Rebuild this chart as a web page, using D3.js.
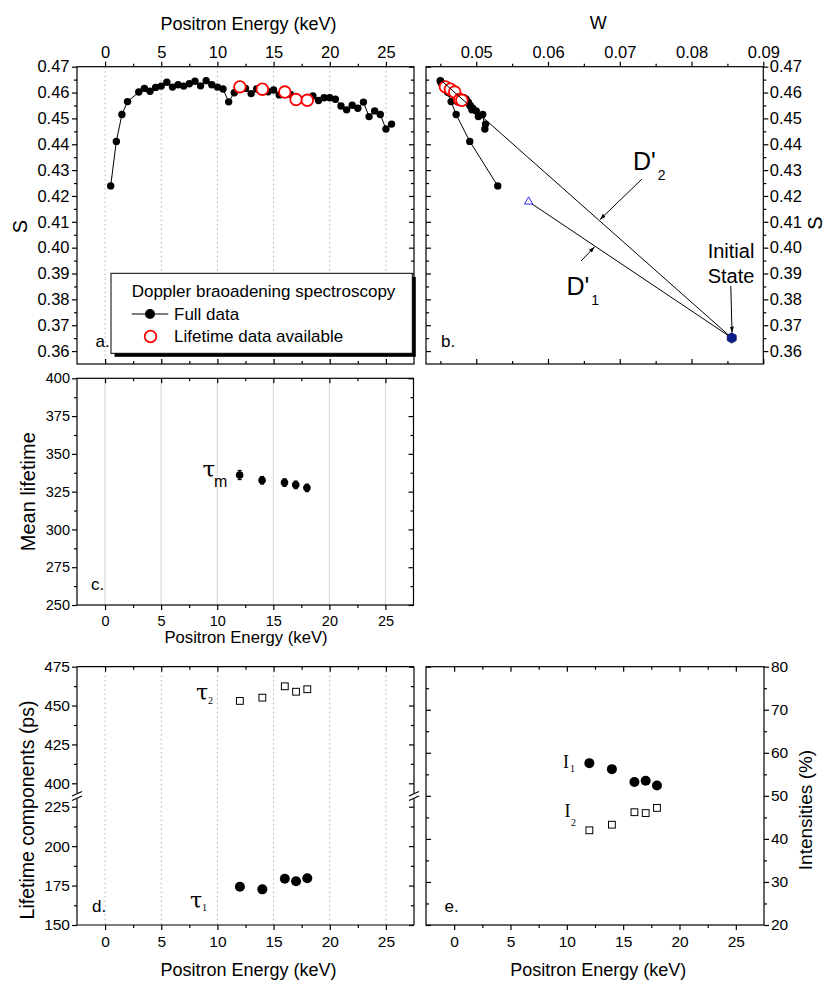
<!DOCTYPE html>
<html><head><meta charset="utf-8">
<script src="https://cdn.jsdelivr.net/npm/d3@7"></script>
<style>
body{margin:0;background:#fff;}
svg{display:block;}
</style></head><body>
<svg id="chart" width="825" height="981"></svg>
<script>
// ---------------- DATA ----------------
const energy = [0.5,1,1.5,2,3,3.5,4,4.5,5,5.5,6,6.5,7,7.5,8,8.5,9,9.5,10,10.5,11,11.5,12,12.5,13,13.5,14,14.5,15,15.5,16,16.5,17,17.5,18,18.5,19,19.5,20,20.5,21,21.5,22,22.5,23,23.5,24,24.5,25,25.5];
const sFull = [0.4239,0.4411,0.4515,0.4565,0.4602,0.4616,0.4605,0.4620,0.4625,0.4640,
               0.4621,0.4630,0.4625,0.4634,0.4644,0.4626,0.4646,0.4630,0.4621,0.4614,
               0.4564,0.4599,0.4620,0.4616,0.4596,0.4614,0.4612,0.4603,0.4610,0.4591,
               0.4600,0.4593,0.4575,0.4572,0.4572,0.4587,0.4569,0.4580,0.4580,0.4574,
               0.4548,0.4533,0.4551,0.4539,0.4563,0.4507,0.4529,0.4515,0.4459,0.4478];
const wFull = [0.0530,0.0491,0.0472,0.0465,0.0460,0.0457,0.0460,0.0455,0.0454,0.0451,
               0.0455,0.0453,0.0454,0.0452,0.0450,0.0454,0.0450,0.0454,0.0456,0.0458,
               0.0474,0.0462,0.0457,0.0459,0.0465,0.0461,0.0464,0.0467,0.0466,0.0471,
               0.0470,0.0473,0.0477,0.0479,0.0480,0.0476,0.0483,0.0481,0.0483,0.0486,
               0.0492,0.0494,0.0491,0.0495,0.0489,0.0503,0.0500,0.0509,0.0512,0.0513];
const lifeE = [12,14,16,17,18];
const sLife = [0.4622,0.4613,0.4602,0.4573,0.4570];
const wLife = [0.0457,0.0464,0.0470,0.0477,0.0480];
const tauMean = [336,332.5,331,329.5,327.5];
const tauMeanErr = [3,2.5,2.5,2.5,2.5];
const tau1 = [174.3,172.6,179.3,177.7,179.6];
const tau2 = [453.0,455.1,462.4,458.9,460.5];
const int1 = [57.6,56.2,53.2,53.5,52.4];
const int2 = [42.0,43.3,46.2,46.0,47.2];
const initialState = [0.0856,0.3651];   // [W, S]
const d1Point = [0.0573,0.4178];
const d2Point = [0.0449,0.4652];

const energyTicks = [0,5,10,15,20,25];
const energyMinor = [2.5,7.5,12.5,17.5,22.5];
const sTicks = [0.36,0.37,0.38,0.39,0.40,0.41,0.42,0.43,0.44,0.45,0.46,0.47];
const sMinor = [0.365,0.375,0.385,0.395,0.405,0.415,0.425,0.435,0.445,0.455,0.465];
const wTicks = [0.05,0.06,0.07,0.08,0.09];
const wMinor = [0.045,0.055,0.065,0.075,0.085];
const meanTicks = [250,275,300,325,350,375,400];
const meanMinor = [262.5,287.5,312.5,337.5,362.5,387.5];
const compUpTicks = [400,425,450,475];
const compUpMinor = [412.5,437.5,462.5];
const compLowTicks = [150,175,200,225];
const compLowMinor = [162.5,187.5,212.5];
const intTicks = [20,30,40,50,60,70,80];
const intMinor = [25,35,45,55,65,75];

// ---------------- SETUP ----------------
const svg = d3.select("#chart");
const SANS = "'Liberation Sans', Arial, sans-serif";
const SERIF = "'Liberation Serif', 'Times New Roman', serif";
const GREEK = "'DejaVu Serif', serif";
const LW = 1.2;

function addAxis(side, scale, pos, major, minor, o = {}) {
  const gen = {left: d3.axisLeft, right: d3.axisRight, top: d3.axisTop, bottom: d3.axisBottom}[side];
  const s = o.inward ? -1 : 1;
  const g = svg.append("g")
    .attr("transform", (side === "left" || side === "right") ? `translate(${pos},0)` : `translate(0,${pos})`);
  g.call(gen(scale).tickValues(major).tickSize(s * 5).tickSizeOuter(0)
        .tickPadding(o.pad ?? 3).tickFormat(o.fmt ? o.fmt : () => ""));
  g.select(".domain").remove();
  if (minor && minor.length) {
    const mg = g.append("g");
    mg.call(gen(scale).tickValues(minor).tickSize(s * 3).tickSizeOuter(0).tickFormat(() => ""));
    mg.select(".domain").remove();
    mg.attr("font-family", null).attr("font-size", null);
  }
  g.attr("font-family", SANS).attr("font-size", o.fs ?? 15);
  g.selectAll("line").attr("stroke", "#000").attr("stroke-width", LW);
  g.selectAll("text").attr("fill", "#000");
  return g;
}
function frame(x0, y0, x1, y1) {
  svg.append("rect").attr("x", x0).attr("y", y0).attr("width", x1 - x0).attr("height", y1 - y0)
    .attr("fill", "none").attr("stroke", "#000").attr("stroke-width", LW);
}
function txt(x, y, str, o = {}) {
  const t = svg.append("text").attr("x", x).attr("y", y)
    .attr("font-family", o.ff ?? SANS).attr("font-size", o.fs ?? 16)
    .attr("text-anchor", o.anchor ?? "start").attr("fill", "#000");
  if (o.rot) t.attr("transform", `rotate(${o.rot},${x},${y})`);
  t.text(str);
  return t;
}
function vgrid(xs, vals, y0, y1, dash, color) {
  svg.append("g").selectAll("line").data(vals).join("line")
    .attr("x1", d => xs(d)).attr("x2", d => xs(d)).attr("y1", y0).attr("y2", y1)
    .attr("stroke", color).attr("stroke-width", 1).attr("stroke-dasharray", dash);
}
const fmt2 = d3.format(".2f");

// ---------------- PANEL A ----------------
const A = {l: 77, r: 414, t: 66.7, b: 364};
const xA = d3.scaleLinear().domain([-2.5, 27.5]).range([A.l, A.r]);
const yS = d3.scaleLinear().domain([0.355, 0.47]).range([A.b, A.t]);
vgrid(xA, energyTicks, A.t, A.b, "1.5,3", "#b0b0b0");
addAxis("top", xA, A.t, energyTicks, energyMinor, {fmt: d => d, fs: 16.5, pad: 4});
addAxis("bottom", xA, A.b, energyTicks, energyMinor, {inward: true});
addAxis("left", yS, A.l, sTicks, sMinor, {fmt: fmt2, fs: 16.5, pad: 2.5});
addAxis("right", yS, A.r, sTicks, sMinor, {inward: true});
frame(A.l, A.t, A.r, A.b);
const ptsA = energy.map((e, i) => [e, sFull[i]]);
svg.append("path").datum(ptsA)
  .attr("d", d3.line().x(d => xA(d[0])).y(d => yS(d[1])))
  .attr("fill", "none").attr("stroke", "#000").attr("stroke-width", 1);
svg.append("g").selectAll("circle").data(ptsA).join("circle")
  .attr("cx", d => xA(d[0])).attr("cy", d => yS(d[1])).attr("r", 3.7).attr("fill", "#000");
svg.append("g").selectAll("circle").data(lifeE.map((e, i) => [e, sLife[i]])).join("circle")
  .attr("cx", d => xA(d[0])).attr("cy", d => yS(d[1])).attr("r", 5.8)
  .attr("fill", "#fff").attr("stroke", "#f00").attr("stroke-width", 1.8);
txt(248.5, 30, "Positron Energy (keV)", {fs: 18, anchor: "middle"});
txt(27, 226.7, "S", {fs: 20, anchor: "middle", rot: -90});
txt(95.5, 346.7, "a.", {fs: 17});
// legend
svg.append("rect").attr("x", 114.5).attr("y", 276.8).attr("width", 301.3).attr("height", 80).attr("fill", "#000");
svg.append("rect").attr("x", 111).attr("y", 273.3).attr("width", 301.3).attr("height", 80)
  .attr("fill", "#fff").attr("stroke", "#000").attr("stroke-width", 1);
txt(131.7, 296.7, "Doppler braoadening spectroscopy", {fs: 17});
svg.append("line").attr("x1", 131.7).attr("x2", 168.3).attr("y1", 314).attr("y2", 314).attr("stroke", "#000").attr("stroke-width", 1);
svg.append("circle").attr("cx", 150).attr("cy", 314).attr("r", 5).attr("fill", "#000");
txt(174, 320, "Full data", {fs: 17});
svg.append("circle").attr("cx", 150.5).attr("cy", 336.5).attr("r", 5.8).attr("fill", "#fff").attr("stroke", "#f00").attr("stroke-width", 1.8);
txt(174, 342, "Lifetime data available", {fs: 17});

// ---------------- PANEL B ----------------
const B = {l: 426, r: 763.3, t: 66.7, b: 364};
const xW = d3.scaleLinear().domain([0.043, 0.09]).range([B.l, B.r]);
addAxis("top", xW, B.t, wTicks, wMinor, {fmt: fmt2, fs: 16.5, pad: 4});
addAxis("bottom", xW, B.b, wTicks, wMinor, {inward: true});
addAxis("left", yS, B.l, sTicks, sMinor, {inward: true});
addAxis("right", yS, B.r, sTicks, sMinor, {fmt: fmt2, fs: 16.5, pad: 1.5});
frame(B.l, B.t, B.r, B.b);
const ptsB = wFull.map((w, i) => [w, sFull[i]]);
svg.append("path").datum(ptsB)
  .attr("d", d3.line().x(d => xW(d[0])).y(d => yS(d[1])))
  .attr("fill", "none").attr("stroke", "#000").attr("stroke-width", 1);
svg.append("g").selectAll("circle").data(ptsB).join("circle")
  .attr("cx", d => xW(d[0])).attr("cy", d => yS(d[1])).attr("r", 3.7).attr("fill", "#000");
svg.append("g").selectAll("circle").data(wLife.map((w, i) => [w, sLife[i]])).join("circle")
  .attr("cx", d => xW(d[0])).attr("cy", d => yS(d[1])).attr("r", 5.8)
  .attr("fill", "#fff").attr("stroke", "#f00").attr("stroke-width", 1.8);
const lineWS = d3.line().x(d => xW(d[0])).y(d => yS(d[1]));
svg.append("path").datum([d2Point, initialState]).attr("d", lineWS).attr("stroke", "#000").attr("stroke-width", 1).attr("fill", "none");
svg.append("path").datum([d1Point, initialState]).attr("d", lineWS).attr("stroke", "#000").attr("stroke-width", 1).attr("fill", "none");
// triangle
svg.append("path").attr("d", d3.symbol(d3.symbolTriangle, 30)())
  .attr("transform", `translate(${xW(d1Point[0])},${yS(d1Point[1])})`)
  .attr("fill", "#fff").attr("stroke", "#2a2aff").attr("stroke-width", 1);
// initial state hexagon
const hex = d3.range(6).map(k => { const a = Math.PI / 3 * k + Math.PI / 6; return [5.2 * Math.cos(a), 5.2 * Math.sin(a)]; });
svg.append("path").attr("d", "M" + hex.join("L") + "Z")
  .attr("transform", `translate(${xW(initialState[0])},${yS(initialState[1])})`)
  .attr("fill", "#0d1f8c").attr("stroke", "#06125a").attr("stroke-width", 0.8);
// arrows
const defs = svg.append("defs");
defs.append("marker").attr("id", "ah").attr("viewBox", "0 0 10 10").attr("refX", 10).attr("refY", 5)
  .attr("markerWidth", 6).attr("markerHeight", 6).attr("orient", "auto")
  .append("path").attr("d", "M0,1.5L10,5L0,8.5Z").attr("fill", "#000");
function arrow(x1, y1, x2, y2) {
  svg.append("line").attr("x1", x1).attr("y1", y1).attr("x2", x2).attr("y2", y2)
    .attr("stroke", "#000").attr("stroke-width", 1).attr("marker-end", "url(#ah)");
}
arrow(641.7, 179.3, 600, 219.5);
arrow(581, 261, 594.5, 247);
arrow(730.8, 286, 732, 332.5);
const d2t = txt(633, 170, "D'", {fs: 25});
d2t.append("tspan").attr("font-size", 14).attr("dx", 2).attr("dy", 10).text("2");
const d1t = txt(566.5, 295, "D'", {fs: 25});
d1t.append("tspan").attr("font-size", 14).attr("dx", 2).attr("dy", 10).text("1");
txt(731, 258.3, "Initial", {fs: 20, anchor: "middle"});
txt(731, 283.3, "State", {fs: 20, anchor: "middle"});
txt(598.3, 28.5, "W", {fs: 18, anchor: "middle"});
txt(822, 223, "S", {fs: 20, anchor: "middle", rot: -90});
txt(441, 346.7, "b.", {fs: 17});

// ---------------- PANEL C ----------------
const C = {l: 77, r: 413.5, t: 378.3, b: 605};
const xC = d3.scaleLinear().domain([-2.5, 27.5]).range([C.l, C.r]);
const yC = d3.scaleLinear().domain([250, 400]).range([C.b, C.t]);
vgrid(xC, energyTicks, C.t, C.b, null, "#d4d4d4");
addAxis("bottom", xC, C.b, energyTicks, energyMinor, {fmt: d => d, fs: 14.5, pad: 5.5});
addAxis("top", xC, C.t, energyTicks, energyMinor, {inward: true});
addAxis("left", yC, C.l, meanTicks, meanMinor, {fmt: d => d, fs: 14.5, pad: 2});
addAxis("right", yC, C.r, meanTicks, meanMinor, {inward: true});
frame(C.l, C.t, C.r, C.b);
const ptsC = lifeE.map((e, i) => [e, tauMean[i], tauMeanErr[i]]);
const eb = svg.append("g").attr("stroke", "#000").attr("stroke-width", 1.2);
ptsC.forEach(d => {
  const x = xC(d[0]);
  eb.append("line").attr("x1", x).attr("x2", x).attr("y1", yC(d[1] - d[2])).attr("y2", yC(d[1] + d[2]));
  eb.append("line").attr("x1", x - 2).attr("x2", x + 2).attr("y1", yC(d[1] - d[2])).attr("y2", yC(d[1] - d[2]));
  eb.append("line").attr("x1", x - 2).attr("x2", x + 2).attr("y1", yC(d[1] + d[2])).attr("y2", yC(d[1] + d[2]));
});
svg.append("g").selectAll("circle").data(ptsC).join("circle")
  .attr("cx", d => xC(d[0])).attr("cy", d => yC(d[1])).attr("r", 3.8).attr("fill", "#000");
txt(202.5, 476.7, "τ", {fs: 23, ff: GREEK});
txt(214, 486.7, "m", {fs: 16});
txt(246, 642.7, "Positron Energy (keV)", {fs: 16.7, anchor: "middle"});
txt(35, 491.7, "Mean lifetime", {fs: 20, anchor: "middle", rot: -90});
txt(91, 590, "c.", {fs: 17});

// ---------------- PANEL D ----------------
const D = {l: 77, r: 414, t: 666.7, b: 925, breakTop: 793.5, breakBot: 798.5};
const xD = d3.scaleLinear().domain([-2.5, 27.5]).range([D.l, D.r]);
const yUp = d3.scaleLinear().domain([400, 475]).range([783.3, D.t]);
const yLow = d3.scaleLinear().domain([150, 225]).range([D.b, 806.7]);
vgrid(xD, energyTicks, D.t, D.b, "1.5,3", "#b0b0b0");
addAxis("bottom", xD, D.b, energyTicks, energyMinor, {fmt: d => d, fs: 15.5, pad: 6});
addAxis("top", xD, D.t, energyTicks, energyMinor, {inward: true});
addAxis("left", yUp, D.l, compUpTicks, compUpMinor, {fmt: d => d, fs: 15.5, pad: 2});
addAxis("left", yLow, D.l, compLowTicks, compLowMinor, {fmt: d => d, fs: 15.5, pad: 2});
addAxis("right", yUp, D.r, compUpTicks, compUpMinor, {inward: true});
addAxis("right", yLow, D.r, compLowTicks, compLowMinor, {inward: true});
const fr = svg.append("g").attr("stroke", "#000").attr("stroke-width", LW);
fr.append("line").attr("x1", D.l).attr("x2", D.r).attr("y1", D.t).attr("y2", D.t);
fr.append("line").attr("x1", D.l).attr("x2", D.r).attr("y1", D.b).attr("y2", D.b);
[D.l, D.r].forEach(x => {
  fr.append("line").attr("x1", x).attr("x2", x).attr("y1", D.t).attr("y2", D.breakTop);
  fr.append("line").attr("x1", x).attr("x2", x).attr("y1", D.breakBot).attr("y2", D.b);
  fr.append("line").attr("x1", x - 5).attr("x2", x + 5).attr("y1", D.breakTop + 2.5).attr("y2", D.breakTop - 2);
  fr.append("line").attr("x1", x - 5).attr("x2", x + 5).attr("y1", D.breakBot + 2).attr("y2", D.breakBot - 2.5);
});
svg.append("g").selectAll("rect").data(lifeE.map((e, i) => [e, tau2[i]])).join("rect")
  .attr("x", d => xD(d[0]) - 3.4).attr("y", d => yUp(d[1]) - 3.4).attr("width", 6.8).attr("height", 6.8)
  .attr("fill", "#fff").attr("stroke", "#000").attr("stroke-width", 1);
svg.append("g").selectAll("circle").data(lifeE.map((e, i) => [e, tau1[i]])).join("circle")
  .attr("cx", d => xD(d[0])).attr("cy", d => yLow(d[1])).attr("r", 5).attr("fill", "#000");
txt(196, 700, "τ", {fs: 22, ff: GREEK});
txt(208, 704, "2", {fs: 10, ff: SERIF});
txt(190, 908, "τ", {fs: 22, ff: GREEK});
txt(202, 911, "1", {fs: 10, ff: SERIF});
txt(248.5, 976, "Positron Energy (keV)", {fs: 18, anchor: "middle"});
txt(34, 810, "Lifetime components (ps)", {fs: 19.5, anchor: "middle", rot: -90});
txt(92, 911.7, "d.", {fs: 17});

// ---------------- PANEL E ----------------
const E = {l: 426, r: 764, t: 666.7, b: 925};
const xE = d3.scaleLinear().domain([-2.5, 27.5]).range([E.l, E.r]);
const yE = d3.scaleLinear().domain([20, 80]).range([E.b, E.t]);
addAxis("bottom", xE, E.b, energyTicks, energyMinor, {fmt: d => d, fs: 15.5, pad: 6});
addAxis("top", xE, E.t, energyTicks, energyMinor, {inward: true});
addAxis("left", yE, E.l, intTicks, intMinor, {inward: true});
addAxis("right", yE, E.r, intTicks, intMinor, {fmt: d => d, fs: 15.5, pad: 2});
frame(E.l, E.t, E.r, E.b);
svg.append("g").selectAll("circle").data(lifeE.map((e, i) => [e, int1[i]])).join("circle")
  .attr("cx", d => xE(d[0])).attr("cy", d => yE(d[1])).attr("r", 5).attr("fill", "#000");
svg.append("g").selectAll("rect").data(lifeE.map((e, i) => [e, int2[i]])).join("rect")
  .attr("x", d => xE(d[0]) - 3.4).attr("y", d => yE(d[1]) - 3.4).attr("width", 6.8).attr("height", 6.8)
  .attr("fill", "#fff").attr("stroke", "#000").attr("stroke-width", 1);
txt(563, 768, "I", {fs: 18, ff: SERIF});
txt(570, 771.7, "1", {fs: 10, ff: SERIF});
txt(564.5, 816.7, "I", {fs: 18, ff: SERIF});
txt(571, 825.5, "2", {fs: 10, ff: SERIF});
txt(598.3, 975.5, "Positron Energy (keV)", {fs: 18, anchor: "middle"});
txt(811.5, 810, "Intensities (%)", {fs: 19, anchor: "middle", rot: -90});
txt(444.5, 911.7, "e.", {fs: 17});
</script>
</body></html>
